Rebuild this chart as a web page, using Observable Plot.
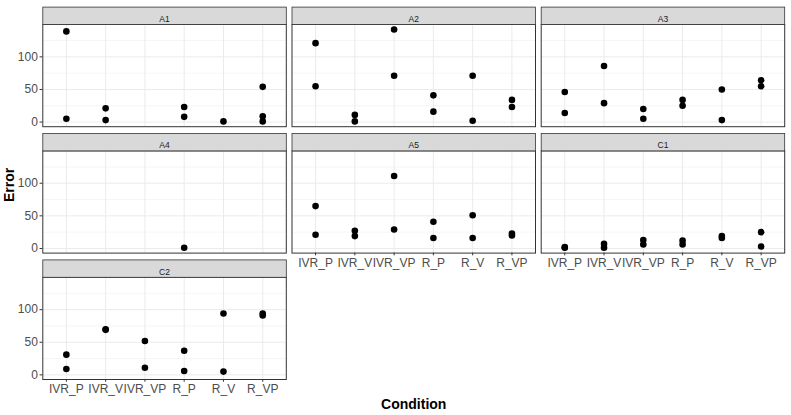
<!DOCTYPE html>
<html>
<head>
<meta charset="utf-8">
<script src="https://cdn.jsdelivr.net/npm/d3@7"></script>
<script src="https://cdn.jsdelivr.net/npm/@observablehq/plot@0.6"></script>
<style>
  html, body { margin: 0; padding: 0; background: #ffffff; }
  #chart { width: 791px; height: 415px; }
</style>
</head>
<body>
<div id="chart"></div>
<script>
// ---- data ----
const conditions = ["IVR_P", "IVR_V", "IVR_VP", "R_P", "R_V", "R_VP"];
const panels = ["A1", "A2", "A3", "A4", "A5", "C1", "C2"];
const yTicks = [0, 50, 100];
const yMinorTicks = [25, 75, 125];

// one list per panel, one inner list per condition (in the order of `conditions`)
const errorA1 = [[139, 5], [21, 3], [], [23, 8], [1], [54, 9, 1]];
const errorA2 = [[121, 55], [11, 1], [142, 71], [41, 16], [71, 2], [34, 23]];
const errorA3 = [[46, 14], [86, 29], [20, 5], [34, 25], [50, 3], [64, 55]];
const errorA4 = [[], [], [], [1], [], []];
const errorA5 = [[65, 21], [27, 19], [111, 29], [41, 16], [51, 16], [23, 20]];
const errorC1 = [[2, 1], [7, 1], [13, 6], [12, 6], [19, 16], [25, 3]];
const errorC2 = [[31, 9], [70, 69], [52, 11], [37, 6], [94, 5], [94, 91]];
const errorsByPanel = [errorA1, errorA2, errorA3, errorA4, errorA5, errorC1, errorC2];

// ---- layout (not data) ----
const W = 791, H = 415;
const nCols = 3;
const L = {left: 42.3, panelW: 243.5, colGap: 5.7, top: 24, panelH: 102.2, rowGap: 24.2, strip: 17.4};
const colStep = L.panelW + L.colGap;
const rowStep = L.panelH + L.rowGap;
const marginRight = W - L.left - (2 * colStep + L.panelW);
const marginBottom = H - L.top - (2 * rowStep + L.panelH);

// ---- tidy tables built from the arrays ----
const points = [];
errorsByPanel.forEach((errs, i) => {
  errs.forEach((vals, j) => {
    vals.forEach(v => points.push({panel: panels[i], col: i % nCols, row: Math.floor(i / nCols), condition: conditions[j], error: v}));
  });
});
const strips = panels.map((p, i) => ({panel: p, col: i % nCols, row: Math.floor(i / nCols)}));

const font = "'Liberation Sans', Arial, Helvetica, sans-serif";

const chart = Plot.plot({
  width: W,
  height: H,
  marginLeft: L.left,
  marginRight: marginRight,
  marginTop: L.top,
  marginBottom: marginBottom,
  style: {fontFamily: font, fontSize: "12px", background: "#ffffff", color: "#000000"},
  fx: {axis: null, domain: [0, 1, 2], paddingInner: L.colGap / colStep, paddingOuter: 0, round: false},
  fy: {axis: null, domain: [0, 1, 2], paddingInner: L.rowGap / rowStep, paddingOuter: 0, round: false},
  x: {type: "point", domain: conditions, padding: 0.6, round: false},
  y: {domain: [-7.1, 149.6]},
  marks: [
    Plot.gridY({ticks: yMinorTicks, stroke: "#EBEBEB", strokeOpacity: 1, strokeWidth: 0.5}),
    Plot.gridY({ticks: yTicks, stroke: "#EBEBEB", strokeOpacity: 1, strokeWidth: 1}),
    Plot.gridX({stroke: "#EBEBEB", strokeOpacity: 1, strokeWidth: 1}),
    Plot.dot(points, {fx: "col", fy: "row", x: "condition", y: "error", r: 3.3, fill: "#000000", stroke: null}),
    Plot.frame({stroke: "#333333", strokeWidth: 1}),
    // strip above each panel
    Plot.frame({fill: "#D9D9D9", stroke: "#333333", strokeWidth: 0.8, insetTop: -L.strip, insetBottom: L.panelH}),
    Plot.text(strips, {fx: "col", fy: "row", text: "panel", frameAnchor: "top", dy: -L.strip / 2, fontSize: 8.5, fill: "#1A1A1A"}),
    Plot.axisY({ticks: yTicks, facetAnchor: "left", tickSize: 2.75, tickPadding: 2.2, fontSize: 12, color: "#4D4D4D", stroke: "#333333", label: null}),
    Plot.axisX({facetAnchor: "bottom-empty", tickSize: 2.75, tickPadding: 2.2, fontSize: 12, color: "#4D4D4D", stroke: "#333333", label: null}),
    Plot.text(["Condition"], {facet: "super", text: d => d, frameAnchor: "bottom", dy: 29.5, fontWeight: "bold", fontSize: 14, fill: "#000000"}),
    Plot.text(["Error"], {facet: "super", text: d => d, frameAnchor: "left", dx: -33.6, rotate: -90, fontWeight: "bold", fontSize: 14, fill: "#000000"})
  ]
});
document.getElementById("chart").appendChild(chart);
</script>
</body>
</html>
